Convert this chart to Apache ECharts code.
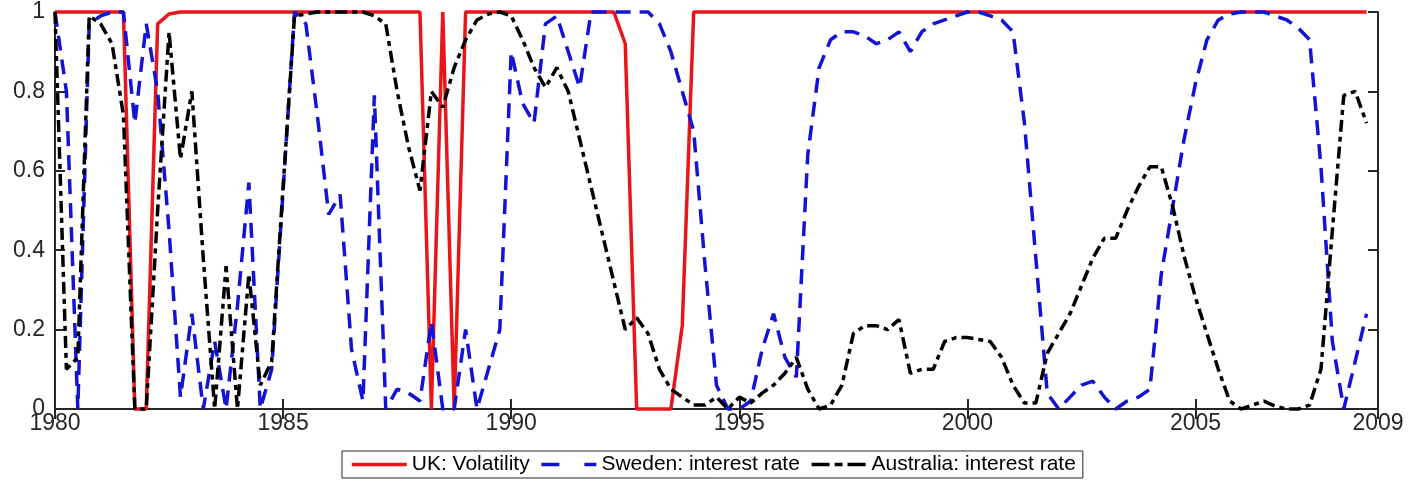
<!DOCTYPE html>
<html>
<head>
<meta charset="utf-8">
<title>Regime probabilities</title>
<script src="https://cdn.jsdelivr.net/npm/echarts@6.0.0/dist/echarts.min.js"></script>
<style>
    html, body { margin: 0; padding: 0; background: #ffffff; }
    #chart_container { width: 1410px; height: 481px; }
</style>
</head>
<body>
<div id="chart_container"></div>
<script>
// quarterly observations, 1980Q1 .. 2008Q4; axis runs on to 2009
var startYear = 1980;
var endYear = 2009;
var tickYears = ['1980', '1985', '1990', '1995', '2000', '2005', '2009'];

var seriesNames = ['UK: Volatility', 'Sweden: interest rate', 'Australia: interest rate'];

var ukVolatility = [
    1, 1, 1, 1, 1, 1, 1, 0, 0, 0.97, 0.995, 1,              // 1980 - 1982
    1, 1, 1, 1, 1, 1, 1, 1, 1, 1, 1, 1,                     // 1983 - 1985
    1, 1, 1, 1, 1, 1, 1, 1, 1, 0, 1, 0,                     // 1986 - 1988
    1, 1, 1, 1, 1, 1, 1, 1, 1, 1, 1, 1,                     // 1989 - 1991
    1, 1, 0.92, 0, 0, 0, 0, 0.21, 1, 1, 1, 1,               // 1992 - 1994
    1, 1, 1, 1, 1, 1, 1, 1, 1, 1, 1, 1,                     // 1995 - 1997
    1, 1, 1, 1, 1, 1, 1, 1, 1, 1, 1, 1,                     // 1998 - 2000
    1, 1, 1, 1, 1, 1, 1, 1, 1, 1, 1, 1,                     // 2001 - 2003
    1, 1, 1, 1, 1, 1, 1, 1, 1, 1, 1, 1,                     // 2004 - 2006
    1, 1, 1, 1, 1, 1, 1, 1                                  // 2007 - 2008
];

var swedenRate = [
    1.0, 0.8, 0.0, 0.97, 0.99, 1.0, 1.0, 0.72, 0.97, 0.8, 0.45, 0.03,
    0.24, 0.0, 0.17, 0.0, 0.26, 0.57, 0.0, 0.1, 0.55, 1.0, 0.97, 0.74,
    0.49, 0.54, 0.15, 0.02, 0.79, 0.0, 0.05, 0.04, 0.02, 0.22, 0.0, 0.0,
    0.2, 0.0, 0.1, 0.2, 0.9, 0.77, 0.72, 0.97, 0.99, 0.9, 0.81, 1.0,
    1.0, 1.0, 1.0, 1.0, 1.0, 0.97, 0.9, 0.8, 0.7, 0.36, 0.06, 0.0,
    0.0, 0.02, 0.15, 0.24, 0.13, 0.08, 0.64, 0.86, 0.93, 0.95, 0.95, 0.94,
    0.92, 0.93, 0.95, 0.9, 0.95, 0.97, 0.98, 0.99, 1.0, 1.0, 0.99, 0.98,
    0.95, 0.72, 0.38, 0.04, 0.0, 0.03, 0.06, 0.07, 0.03, 0.0, 0.02, 0.03,
    0.05, 0.34, 0.51, 0.68, 0.82, 0.93, 0.98, 0.995, 1.0, 1.0, 1.0, 0.99,
    0.98, 0.96, 0.93, 0.61, 0.17, 0.0, 0.12, 0.24
];

var australiaRate = [
    1.0, 0.1, 0.13, 0.99, 0.97, 0.92, 0.74, 0.0, 0.0, 0.5, 0.95, 0.63,
    0.8, 0.38, 0.0, 0.36, 0.0, 0.34, 0.06, 0.12, 0.56, 0.99, 0.995, 1.0,
    1.0, 1.0, 1.0, 1.0, 0.99, 0.97, 0.8, 0.66, 0.55, 0.8, 0.76, 0.86,
    0.93, 0.98, 0.995, 1.0, 0.99, 0.93, 0.86, 0.81, 0.86, 0.8, 0.68, 0.56,
    0.44, 0.32, 0.2, 0.23, 0.19, 0.1, 0.05, 0.03, 0.01, 0.01, 0.03, 0.0,
    0.03, 0.015, 0.04, 0.06, 0.09, 0.13, 0.05, 0.0, 0.01, 0.06, 0.19, 0.21,
    0.21, 0.2, 0.225, 0.09, 0.1, 0.1, 0.17, 0.18, 0.18, 0.175, 0.17, 0.13,
    0.06, 0.015, 0.015, 0.14, 0.19, 0.24, 0.31, 0.38, 0.43, 0.43, 0.5, 0.56,
    0.61, 0.61, 0.51, 0.385, 0.28, 0.19, 0.1, 0.02, 0.0, 0.01, 0.02, 0.007,
    0.0, 0.0, 0.01, 0.1, 0.45, 0.79, 0.8, 0.72
];

// quarter labels for the category axis
var quarters = [];
for (var y = startYear; y < endYear; y++) {
    for (var q = 1; q <= 4; q++) {
        quarters.push(y + 'Q' + q);
    }
}
quarters.push(endYear + 'Q1');

function isTickQuarter(index, value) {
    return tickYears.indexOf(String(value).slice(0, 4)) !== -1 && String(value).slice(4) === 'Q1';
}

var axisColor = '#262626';
var fontName = '"Liberation Sans", Arial, Helvetica, sans-serif';

function drawChart() {
    var dom = document.getElementById('chart_container');
    var myChart = echarts.init(dom, null, {
        renderer: 'canvas',
        useDirtyRect: false
    });

    var option = {
        animation: false,
        backgroundColor: '#ffffff',
        grid: {
            left: 55,
            right: 32,
            top: 12,
            bottom: 72
        },
        legend: {
            left: 342,
            bottom: 3,
            orient: 'horizontal',
            itemWidth: 55,
            itemHeight: 14,
            itemGap: 10,
            padding: [3, 7, 3, 8],
            borderColor: axisColor,
            borderWidth: 1,
            // hide the marker circle, keep only the line sample
            itemStyle: { opacity: 0 },
            lineStyle: { width: 3.5 },
            textStyle: {
                fontFamily: fontName,
                fontSize: 21,
                color: '#000000'
            },
            data: [
                { name: seriesNames[0] },
                { name: seriesNames[1], lineStyle: { width: 3.5, type: [18, 25] } },
                { name: seriesNames[2], lineStyle: { width: 3.5, type: [18, 5, 8, 5] } }
            ]
        },
        xAxis: [
            {
                type: 'category',
                data: quarters,
                boundaryGap: false,
                position: 'bottom',
                axisLine: { lineStyle: { color: axisColor, width: 2 } },
                axisTick: {
                    inside: true,
                    length: 10,
                    interval: isTickQuarter,
                    lineStyle: { color: axisColor, width: 2 }
                },
                axisLabel: {
                    interval: isTickQuarter,
                    margin: 3,
                    fontFamily: fontName,
                    fontSize: 23,
                    color: axisColor,
                    formatter: function (value) {
                        return value.slice(0, 4);
                    }
                },
                splitLine: { show: false }
            },
            {
                type: 'category',
                data: quarters,
                boundaryGap: false,
                position: 'top',
                axisLine: { lineStyle: { color: axisColor, width: 2 } },
                axisTick: {
                    inside: true,
                    length: 10,
                    interval: isTickQuarter,
                    lineStyle: { color: axisColor, width: 2 }
                },
                axisLabel: { show: false },
                splitLine: { show: false }
            }
        ],
        yAxis: [
            {
                type: 'value',
                min: 0,
                max: 1,
                interval: 0.2,
                position: 'left',
                axisLine: { show: true, lineStyle: { color: axisColor, width: 2 } },
                axisTick: { show: true, inside: true, length: 10, lineStyle: { color: axisColor, width: 2 } },
                axisLabel: {
                    margin: 10,
                    fontFamily: fontName,
                    fontSize: 23,
                    color: axisColor
                },
                splitLine: { show: false }
            },
            {
                type: 'value',
                min: 0,
                max: 1,
                interval: 0.2,
                position: 'right',
                axisLine: { show: true, lineStyle: { color: axisColor, width: 2 } },
                axisTick: { show: true, inside: true, length: 10, lineStyle: { color: axisColor, width: 2 } },
                axisLabel: { show: false },
                splitLine: { show: false }
            }
        ],
        series: [
            {
                name: seriesNames[0],
                type: 'line',
                data: ukVolatility,
                symbol: 'none',
                clip: false,
                lineStyle: { color: '#e8161b', width: 3.5, type: 'solid' },
                itemStyle: { color: '#e8161b' }
            },
            {
                name: seriesNames[1],
                type: 'line',
                data: swedenRate,
                symbol: 'none',
                clip: false,
                lineStyle: { color: '#1313d6', width: 3.5, type: [15, 9] },
                itemStyle: { color: '#1313d6' }
            },
            {
                name: seriesNames[2],
                type: 'line',
                data: australiaRate,
                symbol: 'none',
                clip: false,
                lineStyle: { color: '#000000', width: 3.5, type: [12, 5, 5, 5] },
                itemStyle: { color: '#000000' }
            }
        ]
    };

    myChart.setOption(option);
}

drawChart();
</script>
</body>
</html>
